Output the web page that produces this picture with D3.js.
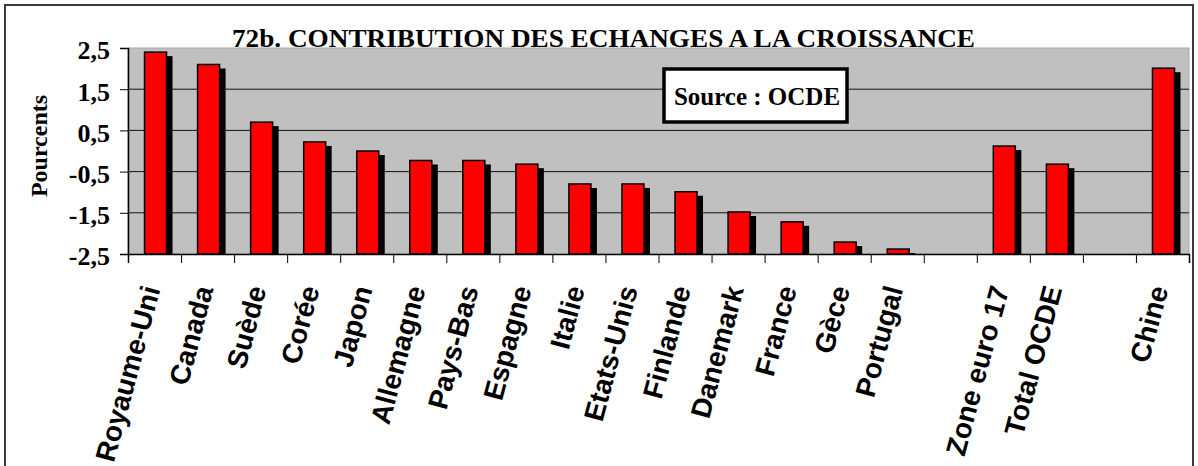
<!DOCTYPE html>
<html>
<head>
<meta charset="utf-8">
<script src="https://cdn.jsdelivr.net/npm/d3@7"></script>
<style>
  body { margin: 0; background: #fff; }
  svg { display: block; }
</style>
</head>
<body>
<svg id="chart" width="1198" height="466"></svg>
<script>

// data (empty names are gaps in the category axis)
const countries = ["Royaume-Uni", "Canada", "Suède", "Corée", "Japon", "Allemagne", "Pays-Bas",
  "Espagne", "Italie", "Etats-Unis", "Finlande", "Danemark", "France", "Gèce", "Portugal",
  "", "Zone euro 17", "Total OCDE", "", "Chine"];
const contributions = [2.4, 2.1, 0.7, 0.22, 0.0, -0.23, -0.23, -0.32, -0.8, -0.8, -0.99, -1.48,
  -1.72, -2.21, -2.38, null, 0.12, -0.32, null, 2.01];
const yTicks = [2.5, 1.5, 0.5, -0.5, -1.5, -2.5];

const titleText = "72b. CONTRIBUTION DES ECHANGES A LA CROISSANCE";
const sourceText = "Source : OCDE";
const yLabel = "Pourcents";

function drawChart() {
  const svg = d3.select("#chart");

  const plot = { left: 128, right: 1189, top: 48, bottom: 254 };

  const frFormat = d3.formatLocale({ decimal: ",", thousands: " ", grouping: [3], currency: ["", " €"], minus: "-" });
  const fmt = frFormat.format(".1f");

  const x = d3.scaleBand()
    .domain(d3.range(countries.length))
    .range([plot.left, plot.right])
    .padding(0);
  const xEdges = d3.scaleLinear()
    .domain([0, countries.length])
    .range([plot.left, plot.right]);
  const y = d3.scaleLinear()
    .domain([-2.5, 2.5])
    .range([plot.bottom, plot.top]);

  // outer frame
  svg.append("rect")
    .attr("x", 5).attr("y", 5)
    .attr("width", 1188).attr("height", 480)
    .attr("fill", "none")
    .attr("stroke", "#3a3a3a")
    .attr("stroke-width", 2);

  // plot background
  svg.append("rect")
    .attr("x", plot.left).attr("y", plot.top)
    .attr("width", plot.right - plot.left)
    .attr("height", plot.bottom - plot.top)
    .attr("fill", "#c0c0c0")
    .attr("stroke", "#a8a8a8")
    .attr("stroke-width", 1);

  // grid lines
  svg.append("g")
    .selectAll("line")
    .data(yTicks.filter(d => d > -2.5 && d < 2.5))
    .join("line")
    .attr("x1", plot.left).attr("x2", plot.right)
    .attr("y1", d => y(d)).attr("y2", d => y(d))
    .attr("stroke", "#111")
    .attr("stroke-width", 1);

  // bars: shadow first, then the red bar
  const bw = 22;
  const barX = i => x(i) + x.bandwidth() / 2 - bw / 2 + 1;
  const shown = contributions.map((v, i) => ({ v, i })).filter(d => d.v !== null);

  svg.append("g")
    .selectAll("rect")
    .data(shown)
    .join("rect")
    .attr("x", d => barX(d.i) + 6)
    .attr("y", d => Math.min(y(d.v) + 4, plot.bottom))
    .attr("width", bw)
    .attr("height", d => Math.max(0, plot.bottom - y(d.v) - 4))
    .attr("fill", "#000");

  svg.append("g")
    .selectAll("rect")
    .data(shown)
    .join("rect")
    .attr("x", d => barX(d.i))
    .attr("y", d => y(d.v))
    .attr("width", bw)
    .attr("height", d => plot.bottom - y(d.v))
    .attr("fill", "#ff0000")
    .attr("stroke", "#000")
    .attr("stroke-width", 1.5);

  // y axis
  const yAxis = svg.append("g")
    .attr("transform", `translate(${plot.left},0)`)
    .call(d3.axisLeft(y).tickValues(yTicks).tickFormat(fmt).tickSize(8).tickPadding(10));
  yAxis.select(".domain").attr("stroke", "#000").attr("stroke-width", 1.5);
  yAxis.selectAll(".tick line").attr("stroke", "#000");
  yAxis.selectAll("text")
    .attr("font-family", "'Liberation Serif', 'Times New Roman', serif")
    .attr("font-weight", "bold")
    .attr("font-size", 26)
    .attr("fill", "#000")
    .attr("dy", "0.42em");

  // x axis: tick marks on category edges
  const xAxis = svg.append("g")
    .attr("transform", `translate(0,${plot.bottom})`)
    .call(d3.axisBottom(xEdges).tickValues(d3.range(countries.length + 1)).tickFormat("").tickSize(9));
  xAxis.select(".domain").attr("stroke", "#000").attr("stroke-width", 1.5);
  xAxis.selectAll(".tick line").attr("stroke", "#000");

  // category labels, rotated
  svg.append("g")
    .selectAll("text")
    .data(countries)
    .join("text")
    .attr("transform", (d, i) => `translate(${x(i) + x.bandwidth() / 2 + 6},289) rotate(-75)`)
    .attr("text-anchor", "end")
    .attr("font-family", "'Liberation Sans', Arial, sans-serif")
    .attr("font-weight", "bold")
    .attr("font-size", 28)
    .attr("fill", "#000")
    .text(d => d);

  // y label
  svg.append("text")
    .attr("transform", "translate(47,146) rotate(-90)")
    .attr("text-anchor", "middle")
    .attr("font-family", "'Liberation Serif', 'Times New Roman', serif")
    .attr("font-weight", "bold")
    .attr("font-size", 24)
    .text(yLabel);

  // title
  svg.append("text")
    .attr("x", 232).attr("y", 47)
    .attr("font-family", "'Liberation Serif', 'Times New Roman', serif")
    .attr("font-weight", "bold")
    .attr("font-size", 26)
    .attr("textLength", 743)
    .attr("lengthAdjust", "spacingAndGlyphs")
    .text(titleText);

  // source box
  svg.append("rect")
    .attr("x", 664).attr("y", 69)
    .attr("width", 183).attr("height", 53)
    .attr("fill", "#fff")
    .attr("stroke", "#000")
    .attr("stroke-width", 3.5);
  svg.append("text")
    .attr("x", 757).attr("y", 105)
    .attr("text-anchor", "middle")
    .attr("font-family", "'Liberation Serif', 'Times New Roman', serif")
    .attr("font-weight", "bold")
    .attr("font-size", 25)
    .text(sourceText);
}

if (document.readyState === "loading") {
  document.addEventListener("DOMContentLoaded", drawChart);
} else {
  drawChart();
}
</script>
</body>
</html>
